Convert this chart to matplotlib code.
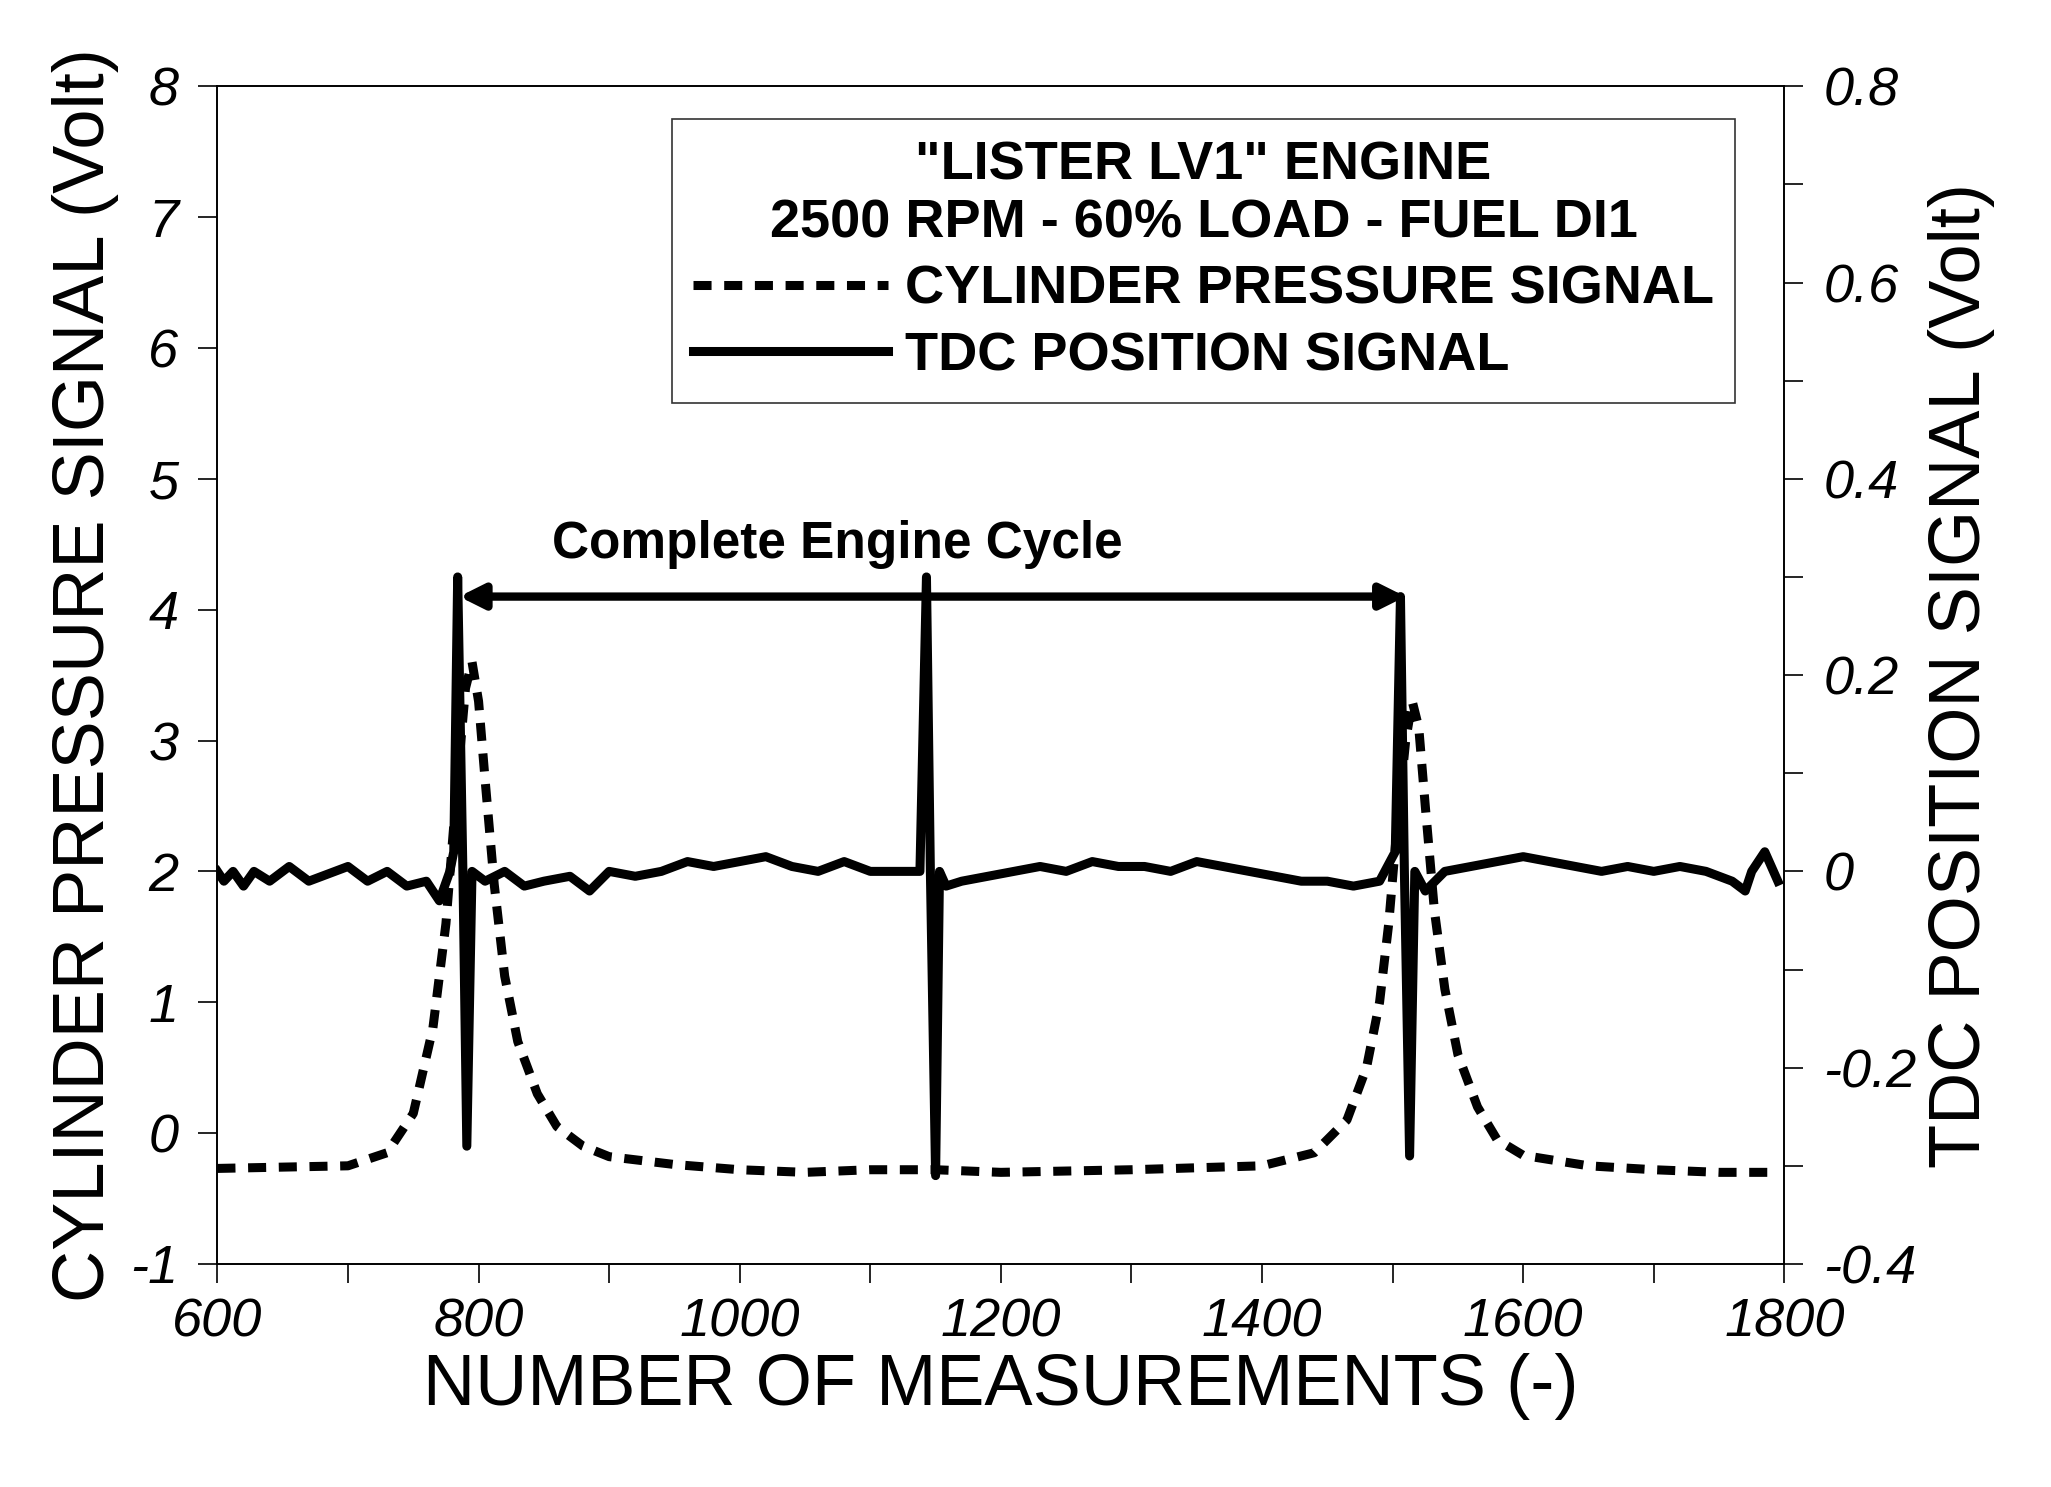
import matplotlib
matplotlib.use("Agg")
import matplotlib.pyplot as plt
from matplotlib.lines import Line2D

plt.rcParams['font.family'] = ['Liberation Sans', 'DejaVu Sans']
plt.rcParams['axes.unicode_minus'] = False

# cylinder pressure signal (left axis, Volt)
p_x = [600, 650, 700, 730, 750, 765, 775, 783, 790, 795, 800, 805, 812, 820, 830, 845, 860, 880, 900,
       950, 1000, 1050, 1100, 1150, 1200, 1300, 1400, 1440, 1465, 1480, 1490, 1497, 1503, 1510, 1515,
       1520, 1525, 1532, 1540, 1550, 1565, 1580, 1600, 1650, 1700, 1750, 1790]
p_y = [-0.27, -0.26, -0.25, -0.15, 0.15, 0.8, 1.6, 2.6, 3.4, 3.6, 3.3, 2.7, 1.9, 1.2, 0.7, 0.3, 0.05, -0.1, -0.18,
       -0.24, -0.28, -0.3, -0.28, -0.28, -0.3, -0.28, -0.25, -0.15, 0.1, 0.5, 1.0, 1.6, 2.3, 3.0, 3.3,
       3.1, 2.5, 1.7, 1.1, 0.6, 0.2, -0.05, -0.17, -0.25, -0.28, -0.3, -0.3]

# TDC position signal (right axis, Volt)
t_x = [600, 605, 612, 620, 628, 640, 655, 670, 690, 700, 715, 730, 745, 760, 770, 778, 781, 784, 788, 791, 795,
       805, 820, 835, 850, 870, 885, 900, 920, 940, 960, 980, 1000, 1020, 1040, 1060, 1080, 1100, 1120, 1138,
       1143, 1146, 1150, 1153, 1158, 1170, 1190, 1210, 1230, 1250, 1270, 1290, 1310, 1330, 1350, 1370, 1390,
       1410, 1430, 1450, 1470, 1490, 1502, 1506, 1509, 1513, 1517, 1525, 1540, 1560, 1580, 1600, 1620, 1640,
       1660, 1680, 1700, 1720, 1740, 1760, 1770, 1775, 1785, 1795]
t_y = [0.0, -0.01, 0.0, -0.015, 0.0, -0.01, 0.005, -0.01, 0.0, 0.005, -0.01, 0.0, -0.015, -0.01, -0.03, 0.0, 0.02, 0.3, 0.0, -0.28, 0.0,
       -0.01, 0.0, -0.015, -0.01, -0.005, -0.02, 0.0, -0.005, 0.0, 0.01, 0.005, 0.01, 0.015, 0.005, 0.0, 0.01, 0.0, 0.0, 0.0,
       0.3, 0.0, -0.31, 0.0, -0.015, -0.01, -0.005, 0.0, 0.005, 0.0, 0.01, 0.005, 0.005, 0.0, 0.01, 0.005, 0.0,
       -0.005, -0.01, -0.01, -0.015, -0.01, 0.02, 0.28, 0.0, -0.29, 0.0, -0.02, 0.0, 0.005, 0.01, 0.015, 0.01, 0.005,
       0.0, 0.005, 0.0, 0.005, 0.0, -0.01, -0.02, 0.0, 0.02, -0.01]

fig = plt.figure(figsize=(20.51, 14.87), dpi=100)
ax = fig.add_axes([0.106, 0.15, 0.764, 0.792])
ax2 = ax.twinx()

ax.plot(p_x, p_y, color='black', lw=6.5, ls=(0, (2.0, 1.4)))
ax2.plot(t_x, t_y, color='black', lw=6.5)

ax.set_xlim(600, 1800)
ax.set_ylim(-1, 8)
ax2.set_ylim(-0.4, 0.8)
ax.set_xticks(range(600, 1801, 200))
ax.set_xticks(range(600, 1801, 100), minor=True)
ax.set_yticks(range(-1, 9))
ax2.set_yticks([-0.4, -0.2, 0, 0.2, 0.4, 0.6, 0.8])
ax2.set_yticklabels(['-0.4', '-0.2', '0', '0.2', '0.4', '0.6', '0.8'])
ax2.set_yticks([x / 10 for x in range(-4, 9)], minor=True)

for a in (ax, ax2):
    a.tick_params(which='both', direction='out', width=1.2, labelsize=39, length=14)
    for lab in a.get_xticklabels() + a.get_yticklabels():
        lab.set_fontstyle('italic')
    for s in a.spines.values():
        s.set_linewidth(1.2)
ax.tick_params(axis='y', pad=14)
ax2.tick_params(axis='y', pad=14)
ax.tick_params(axis='x', pad=10)

ax.set_xlabel('NUMBER OF MEASUREMENTS (-)', fontsize=52, labelpad=4)
ax.set_ylabel('CYLINDER PRESSURE SIGNAL (Volt)', fontsize=52, labelpad=8)
ax2.set_ylabel('TDC POSITION SIGNAL (Volt)', fontsize=52, labelpad=8)

# engine cycle arrow
ax.annotate('', xy=(783, 4.1), xytext=(1512, 4.1),
            arrowprops=dict(arrowstyle='<|-|>', color='black', lw=6, mutation_scale=36))
ax.text(1075, 4.5, 'Complete Engine Cycle', fontsize=37, fontweight='bold', ha='center', va='center')

handles = [Line2D([], [], color='black', lw=6.5, ls=(0, (2.0, 1.4))),
           Line2D([], [], color='black', lw=6.5)]
leg = ax.legend(handles, ['CYLINDER PRESSURE SIGNAL', 'TDC POSITION SIGNAL'],
                title='"LISTER LV1" ENGINE\n2500 RPM - 60% LOAD - FUEL DI1',
                loc='upper right', bbox_to_anchor=(0.986, 0.995), fancybox=False,
                edgecolor='black', handlelength=3.6, handletextpad=0.3, labelspacing=0.3,
                prop={'size': 39, 'weight': 'bold'},
                title_fontproperties={'size': 39, 'weight': 'bold'}, borderpad=0.4)
leg.get_title().set_multialignment('center')
leg.get_frame().set_linewidth(1.2)

fig.savefig('out.png', dpi=100)
